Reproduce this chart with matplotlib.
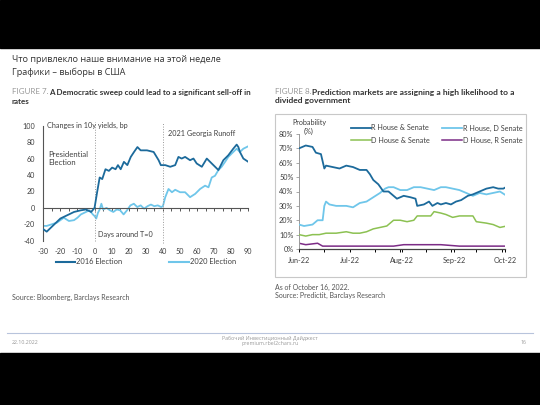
import matplotlib.pyplot as plt
from matplotlib.patches import Rectangle
from matplotlib.lines import Line2D

plt.rcParams["axes.unicode_minus"] = False

# slide texts
slide_title = "Что привлекло наше внимание на этой неделе\nГрафики – выборы в США"
footer_date = "22.10.2022"
footer_mid = "Рабочий Инвестиционный Дайджест\npremium.rbel2chars.ru"
footer_page = "16"

# figure 7: changes in 10y yields (bp) around election day
days_2016 = [-30, -28, -24, -20, -16, -12, -8, -5, -2, 0, 1.5, 3, 4.5, 6.4, 8.4, 10.3, 12.3, 13.7,
             15.3, 17.2, 19.2, 21.2, 23.1, 25.1, 27, 30.7, 34.6, 37.5, 38.8, 41.4, 44.3, 47.2,
             49.1, 51, 53, 55.9, 57.9, 59.8, 62.8, 65.7, 68.6, 72.5, 75.4, 78.3, 81.2, 83.2,
             84.2, 85.1, 87.1, 90]
yld_2016 = [-26, -29, -21, -13, -9, -5, -3, -2, -5, 0, 19, 37, 35, 47, 45, 49, 47, 52,
            47, 56, 52, 62, 68, 74, 70, 70, 68, 58, 52, 52, 50, 52,
            62, 60, 62, 58, 60, 54, 50, 60, 54, 46, 58, 64, 72, 77,
            74, 68, 60, 56]
days_2020 = [-30, -28, -25, -22, -20, -18, -15, -12, -10, -8, -5, -3, -1, 0, 1, 2, 3, 4, 5, 7,
             9, 11, 13, 15, 17, 19, 21, 23, 25, 27, 29, 31, 33, 35, 37, 39, 40, 41.4, 43.3,
             45.3, 47.2, 50.1, 53, 55.9, 58.9, 61.8, 64.7, 66.7, 68.6, 70.5, 72.5, 74.4, 76.4,
             78.3, 81.2, 83.2, 85.1, 87.1, 90]
yld_2020 = [-22, -22, -20, -18, -15, -12, -16, -15, -12, -8, -5, -3, -8, -10, -13, -6, -2, 5, -2, 0,
            -3, -5, -2, -3, -8, -3, 3, 5, 1, 3, -1, 2, 4, 2, 3, 1, 2, 13, 23,
            19, 22, 19, 19, 13, 17, 23, 27, 25, 37, 39, 46, 50, 56,
            62, 68, 72, 68, 72, 75]
x7_ticks = [-30, -20, -10, 0, 10, 20, 30, 40, 50, 60, 70, 80, 90]
y7_ticks = [-40, -20, 0, 20, 40, 60, 80, 100]

# figure 8: predictit probabilities (%), days from 1 Jun 2022
rhs_days = [0, 4, 8, 10, 13, 15, 16, 20, 24, 28, 32, 34, 36, 40, 42, 44, 47, 50, 53, 56,
            58, 62, 66, 69, 70, 74, 77, 79, 82, 84, 87, 90, 93, 96, 100, 103, 107, 111, 115, 118,
            121, 124, 126, 128, 129]
rhs_prob = [70, 72, 71, 67, 66, 56, 58, 57, 56, 58, 57, 56, 55, 55, 52, 48, 45, 40, 40, 37,
            35, 37, 36, 35, 30, 31, 33, 30, 32, 31, 32, 31, 33, 34, 37, 38, 40, 42, 43, 42,
            42, 44, 47, 45, 43]
rhds_days = [0, 3, 8, 11, 14, 15, 16, 18, 22, 28, 32, 36, 40, 44, 48, 51, 53, 56, 60, 64,
             68, 72, 76, 80, 84, 87, 91, 95, 99, 103, 107, 111, 115, 119, 123, 126, 129]
rhds_prob = [17, 16, 17, 20, 20, 30, 33, 31, 30, 30, 29, 32, 33, 36, 39, 42, 43, 43, 41, 41,
             43, 43, 42, 41, 43, 43, 42, 41, 39, 37, 39, 38, 39, 40, 37, 35, 39]
dhs_days = [0, 4, 8, 12, 16, 22, 28, 32, 36, 40, 44, 48, 52, 56, 60, 64, 68, 70, 74, 78,
            80, 84, 87, 91, 95, 99, 103, 105, 111, 115, 119, 123, 129]
dhs_prob = [10, 9, 10, 10, 11, 11, 12, 11, 11, 12, 14, 15, 16, 20, 20, 19, 20, 23, 23, 23,
            26, 25, 24, 22, 23, 23, 23, 19, 18, 17, 15, 16, 16]
dhrs_days = [0, 4, 11, 14, 26, 36, 56, 62, 70, 76, 84, 95, 115, 129]
dhrs_prob = [4, 3, 4, 2, 2, 2, 2, 3, 3, 3, 3, 2, 2, 2]
x8_ticks = [0, 30, 61, 92, 122]
x8_labels = ["Jun-22", "Jul-22", "Aug-22", "Sep-22", "Oct-22"]
y8_ticks = [0, 10, 20, 30, 40, 50, 60, 70, 80]

W, H = 540, 405
fig = plt.figure(figsize=(5.4, 4.05), dpi=100)
fig.patch.set_facecolor("white")

def fx(px):
    return px / W

def fy(py):
    return 1 - py / H

# black bars top and bottom
fig.patches.append(Rectangle((0, fy(48)), 1, 48 / H, transform=fig.transFigure, color="black", zorder=0))
fig.patches.append(Rectangle((0, 0), 1, (H - 353) / H, transform=fig.transFigure, color="black", zorder=0))

fig.text(fx(12), fy(55), slide_title, fontsize=6.6, color="#333333", va="top", family="Open Sans",
         linespacing=1.45)

chart_font = "Lato"
dark = "#1c6a9b"
light = "#6fc6ea"
green = "#8cc152"
purple = "#7c2c86"
grey_txt = "#404040"

# captions
cap = 5.8
fig.text(fx(12), fy(92), "FIGURE 7.", fontsize=cap, color="#9a9a9a", va="center", family=chart_font)
fig.text(fx(49), fy(92), "A Democratic sweep could lead to a significant sell-off in", fontsize=cap,
         color="#333333", va="center", weight="bold", family=chart_font)
fig.text(fx(12), fy(101), "rates", fontsize=cap, color="#333333", va="center", weight="bold", family=chart_font)
fig.text(fx(275), fy(92), "FIGURE 8.", fontsize=cap, color="#9a9a9a", va="center", family=chart_font)
fig.text(fx(312), fy(92), "Prediction markets are assigning a high likelihood to a", fontsize=6.1,
         color="#333333", va="center", weight="bold", family=chart_font)
fig.text(fx(275), fy(101), "divided government", fontsize=6.1, color="#333333", va="center",
         weight="bold", family=chart_font)
fig.text(fx(12), fy(297), "Source: Bloomberg, Barclays Research", fontsize=5, color="#555555",
         va="center", family=chart_font)
fig.text(fx(275), fy(284), "As of October 16, 2022.\nSource: Predictit, Barclays Research", fontsize=5,
         color="#555555", va="top", family=chart_font, linespacing=1.1)

# ---- figure 7 ----
ax1 = fig.add_axes([fx(43.3), fy(240.7), fx(248.3 - 43.3), (240.7 - 125.7) / H])
ax1.plot(days_2016, yld_2016, color=dark, lw=1.3, zorder=3)
ax1.plot(days_2020, yld_2020, color=light, lw=1.3, zorder=2)
ax1.set_xlim(-30, 90)
ax1.set_ylim(-40, 100)
ax1.axvline(0, color="#999999", ls=":", lw=0.7, ymin=0, ymax=1.03, clip_on=False)
ax1.axvline(40, color="#999999", ls=":", lw=0.7, ymin=-0.02, ymax=1.03, clip_on=False)
for s in ["top", "right"]:
    ax1.spines[s].set_visible(False)
ax1.spines["left"].set_color("#555555")
ax1.spines["left"].set_linewidth(0.8)
ax1.spines["bottom"].set_position(("data", 0))
ax1.spines["bottom"].set_color("#555555")
ax1.spines["bottom"].set_linewidth(0.8)
ax1.set_xticks(range(-30, 91, 5), minor=True)
ax1.set_xticks(x7_ticks)
ax1.set_yticks(y7_ticks)
ax1.tick_params(axis="x", which="both", direction="out", length=2, width=0.7, color="#555555",
                pad=27, labelsize=5.2, labelcolor=grey_txt)
ax1.tick_params(axis="y", length=0, pad=6, labelsize=5.2, labelcolor=grey_txt)
for lab in ax1.get_xticklabels() + ax1.get_yticklabels():
    lab.set_family(chart_font)
ax1.set_facecolor("none")
ax1.text(-28, 100, "Changes in 10y yields, bp", fontsize=5.2, color=grey_txt, va="center", family=chart_font)
ax1.text(-27, 60, "Presidential\nElection", fontsize=5.6, color=grey_txt, va="center", family=chart_font,
         linespacing=1.3)
ax1.text(43, 90, "2021 Georgia Runoff", fontsize=5.2, color=grey_txt, va="center", family=chart_font)
ax1.text(2, -33, "Days around T=0", fontsize=5.2, color=grey_txt, va="center", family=chart_font)
ax1.legend([Line2D([], [], color=dark, lw=1.5), Line2D([], [], color=light, lw=1.5)],
           ["2016 Election", "2020 Election"], ncol=2, frameon=False,
           loc="center left", bbox_to_anchor=(fx(49), fy(262)), bbox_transform=fig.transFigure,
           handlelength=2.6, handletextpad=0.15, columnspacing=6.2, prop={"family": chart_font, "size": 5.4},
           labelcolor=grey_txt)

# ---- figure 8 ----
fig.patches.append(Rectangle((fx(275), fy(277)), fx(526 - 275), (277 - 114) / H, transform=fig.transFigure,
                             fill=False, edgecolor="#c8c8c8", lw=0.8, zorder=1))
ax2 = fig.add_axes([fx(299), fy(249), fx(505 - 299), (249 - 134) / H])
ax2.plot(rhs_days, rhs_prob, color=dark, lw=1.3, zorder=5, label="R House & Senate")
ax2.plot(dhs_days, dhs_prob, color=green, lw=1.1, zorder=3, label="D House & Senate")
ax2.plot(rhds_days, rhds_prob, color=light, lw=1.3, zorder=4, label="R House, D Senate")
ax2.plot(dhrs_days, dhrs_prob, color=purple, lw=1.1, zorder=2, label="D House, R Senate")
ax2.set_xlim(0, 122)
ax2.set_ylim(0, 80)
ax2.set_xticks(x8_ticks)
ax2.set_xticklabels(x8_labels)
ax2.set_xticks(range(0, 130, 15), minor=True)
ax2.set_yticks(y8_ticks)
ax2.set_yticklabels([f"{v}%" for v in y8_ticks])
for s in ["top", "right"]:
    ax2.spines[s].set_visible(False)
ax2.spines["left"].set_color("#999999")
ax2.spines["left"].set_linewidth(0.7)
ax2.spines["bottom"].set_color("#444444")
ax2.spines["bottom"].set_linewidth(0.9)
ax2.tick_params(axis="x", which="both", direction="out", length=2, width=0.7, pad=4,
                labelsize=5.2, labelcolor=grey_txt)
ax2.tick_params(axis="y", direction="out", length=2, width=0.6, color="#999999", pad=2,
                labelsize=5.2, labelcolor=grey_txt)
for lab in ax2.get_xticklabels() + ax2.get_yticklabels():
    lab.set_family(chart_font)
ax2.set_facecolor("none")
fig.text(fx(292), fy(122), "Probability", fontsize=5.2, color=grey_txt, va="center", family=chart_font)
fig.text(fx(304), fy(131), "(%)", fontsize=5.2, color=grey_txt, va="center", family=chart_font)
ax2.legend(ncol=2, frameon=False, loc="upper left", bbox_to_anchor=(fx(344), fy(118)),
           bbox_transform=fig.transFigure, handlelength=2.8, handletextpad=0.1, columnspacing=1.6,
           labelspacing=0.75, prop={"family": chart_font, "size": 5.2}, labelcolor=grey_txt)

# footer
fig.add_artist(Line2D([fx(7), fx(533)], [fy(333), fy(333)], color="#b8c4dc", lw=0.8, transform=fig.transFigure))
fig.text(fx(12), fy(342), footer_date, fontsize=3.8, color="#999999", va="center", family="Open Sans")
fig.text(fx(270), fy(341), footer_mid, fontsize=3.8, color="#999999", va="center", ha="center",
         family="Open Sans", linespacing=1.2)
fig.text(fx(527), fy(342), footer_page, fontsize=3.8, color="#999999", va="center", ha="right",
         family="Open Sans")

fig.savefig("out.png", dpi=100, facecolor="white")
